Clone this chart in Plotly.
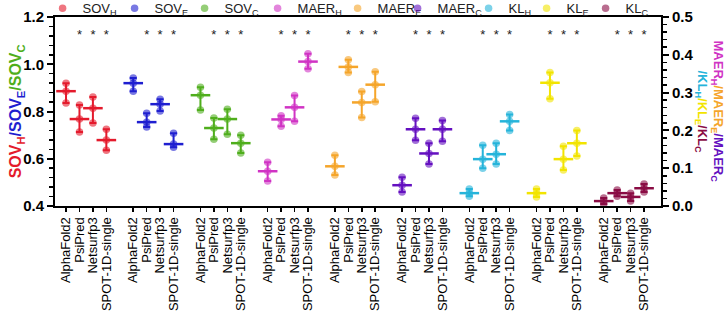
import plotly.graph_objects as go

methods = ["AlphaFold2", "PsiPred", "Netsurfp3", "SPOT-1D-single"]
series = ["SOV_H", "SOV_E", "SOV_C", "MAER_H", "MAER_E", "MAER_C", "KL_H", "KL_E", "KL_C"]
legend_names = ["SOV<sub>H</sub>", "SOV<sub>E</sub>", "SOV<sub>C</sub>",
                "MAER<sub>H</sub>", "MAER<sub>E</sub>", "MAER<sub>C</sub>",
                "KL<sub>H</sub>", "KL<sub>E</sub>", "KL<sub>C</sub>"]
colors = ["#e41a2c", "#1f1fd0", "#4fae1c", "#d033c4", "#f5a52a", "#6410c0",
          "#25b4da", "#f2e400", "#8a0c44"]
# which axis: left (SOV) or right (MAER/KL)
axis_of = ["y", "y", "y", "y2", "y2", "y2", "y2", "y2", "y2"]
# legend entry widths (px) to mimic the reference's spacing
legend_item_px = [27, 25, 28, 35, 15, 26, 13, 14, 20]

mean = {
    "SOV_H": [0.886, 0.768, 0.814, 0.679],
    "SOV_E": [0.920, 0.755, 0.831, 0.662],
    "SOV_C": [0.869, 0.730, 0.768, 0.666],
    "MAER_H": [0.092, 0.229, 0.261, 0.382],
    "MAER_E": [0.105, 0.368, 0.274, 0.321],
    "MAER_C": [0.055, 0.203, 0.139, 0.203],
    "KL_H": [0.034, 0.124, 0.137, 0.224],
    "KL_E": [0.034, 0.326, 0.124, 0.166],
    "KL_C": [0.013, 0.034, 0.024, 0.047],
}
upper = {
    "SOV_H": [0.920, 0.827, 0.861, 0.725],
    "SOV_E": [0.942, 0.793, 0.852, 0.708],
    "SOV_C": [0.903, 0.772, 0.810, 0.700],
    "MAER_H": [0.116, 0.239, 0.292, 0.403],
    "MAER_E": [0.134, 0.387, 0.303, 0.355],
    "MAER_C": [0.076, 0.232, 0.166, 0.226],
    "KL_H": [0.045, 0.161, 0.166, 0.242],
    "KL_E": [0.045, 0.353, 0.158, 0.200],
    "KL_C": [0.021, 0.042, 0.034, 0.058],
}
lower = {
    "SOV_H": [0.836, 0.713, 0.751, 0.636],
    "SOV_E": [0.886, 0.734, 0.802, 0.649],
    "SOV_C": [0.806, 0.683, 0.704, 0.624],
    "MAER_H": [0.066, 0.211, 0.224, 0.363],
    "MAER_E": [0.082, 0.353, 0.234, 0.276],
    "MAER_C": [0.037, 0.174, 0.111, 0.171],
    "KL_H": [0.026, 0.100, 0.111, 0.200],
    "KL_E": [0.024, 0.284, 0.095, 0.132],
    "KL_C": [0.005, 0.026, 0.013, 0.037],
}
# significance stars over these methods in every group
star_methods = ["PsiPred", "Netsurfp3", "SPOT-1D-single"]
star_level = 1.122

GROUP_STEP = 5
FONT = "Liberation Sans, Arial, sans-serif"

fig = go.Figure()
tickvals, ticktext = [], []
star_x = []
for g, s in enumerate(series):
    xs = [g * GROUP_STEP + m for m in range(len(methods))]
    tickvals += xs
    ticktext += methods
    star_x += [g * GROUP_STEP + methods.index(sm) for sm in star_methods]
    mu, hi, lo = mean[s], upper[s], lower[s]
    # replicate dots
    fig.add_trace(go.Scatter(
        x=xs * 3, y=lo + mu + hi, mode="markers", yaxis=axis_of[g],
        name=legend_names[g], legendgroup=s, legendwidth=legend_item_px[g],
        marker=dict(symbol="circle", size=7.5, color=colors[g], opacity=0.6,
                    line=dict(width=0)),
    ))
    # mean +/- error
    fig.add_trace(go.Scatter(
        x=xs, y=mu, mode="markers", yaxis=axis_of[g], showlegend=False,
        legendgroup=s,
        marker=dict(symbol="line-ew", size=14, color=colors[g],
                    line=dict(width=2.5, color=colors[g])),
        error_y=dict(type="data", symmetric=False,
                     array=[h - m for h, m in zip(hi, mu)],
                     arrayminus=[m - l for m, l in zip(mu, lo)],
                     color=colors[g], thickness=2, width=3.5),
    ))

fig.add_trace(go.Scatter(
    x=star_x, y=[star_level] * len(star_x), mode="text", text=["*"] * len(star_x),
    textfont=dict(family=FONT, size=13, color="#222"), showlegend=False, yaxis="y",
    textposition="middle center",
))

fig.update_layout(
    width=727, height=313,
    margin=dict(l=55, r=66, t=17, b=107, autoexpand=False),
    paper_bgcolor="white", plot_bgcolor="white",
    font=dict(family=FONT, color="black"),
    showlegend=True,
    legend=dict(orientation="h", x=-0.0205, xanchor="left", y=1.126, yanchor="top",
                font=dict(family=FONT, size=13, color="#222"),
                itemclick=False, tracegroupgap=0, bgcolor="rgba(0,0,0,0)"),
    xaxis=dict(range=[-0.82, 44.26], tickvals=tickvals, ticktext=ticktext,
               tickangle=-90, ticks="outside", ticklen=4, tickwidth=1.5,
               tickcolor="black", showline=True, linecolor="black", linewidth=2,
               mirror=True, showgrid=False, zeroline=False,
               tickfont=dict(family=FONT, size=13, color="black")),
    yaxis=dict(range=[0.4, 1.2], tickvals=[0.4, 0.6, 0.8, 1.0, 1.2], tickformat=".1f",
               ticks="outside", ticklen=6, tickwidth=2, tickcolor="black",
               showline=True, linecolor="black", linewidth=2, showgrid=False,
               zeroline=False,
               minor=dict(dtick=0.04, ticks="outside", ticklen=4, tickwidth=1.5,
                          tickcolor="black", showgrid=False),
               tickfont=dict(family=FONT, size=15, color="black", weight="bold")),
    yaxis2=dict(range=[0, 0.5], overlaying="y", side="right",
                tickvals=[0, 0.1, 0.2, 0.3, 0.4, 0.5], tickformat=".1f",
                ticks="outside", ticklen=6, tickwidth=2, tickcolor="black",
                showline=True, linecolor="black", linewidth=2, showgrid=False,
                zeroline=False,
                minor=dict(dtick=0.02, ticks="outside", ticklen=4, tickwidth=1.5,
                           tickcolor="black", showgrid=False),
                tickfont=dict(family=FONT, size=15, color="black", weight="bold")),
)

def span(txt, c):
    return f"<span style='color:{c}'>{txt}</span>"

left_title = "<b>" + span("SOV<sub>H</sub>", colors[0]) + span("/", colors[1]) + \
    span("SOV<sub>E</sub>", colors[1]) + span("/", colors[2]) + \
    span("SOV<sub>C</sub>", colors[2]) + "</b>"
right_line1 = "<b>" + span("MAER<sub>H</sub>", colors[3]) + span("/", colors[4]) + \
    span("MAER<sub>E</sub>", colors[4]) + span("/", colors[5]) + \
    span("MAER<sub>C</sub>", colors[5]) + "</b>"
right_line2 = "<b>" + span("/KL<sub>H</sub>", colors[6]) + span("/", colors[7]) + \
    span("KL<sub>E</sub>", colors[7]) + span("/", colors[8]) + \
    span("KL<sub>C</sub>", colors[8]) + "</b>"

fig.add_annotation(text=left_title, xref="paper", yref="paper", x=-0.063, y=0.5,
                   xanchor="center", yanchor="middle", textangle=-90, showarrow=False,
                   font=dict(family=FONT, size=16))
fig.add_annotation(text=right_line1, xref="paper", yref="paper", x=(717 - 55) / 606,
                   y=0.5, xanchor="center", yanchor="middle", textangle=90,
                   showarrow=False, font=dict(family=FONT, size=13))
fig.add_annotation(text=right_line2, xref="paper", yref="paper", x=(701 - 55) / 606,
                   y=0.5, xanchor="center", yanchor="middle", textangle=90,
                   showarrow=False, font=dict(family=FONT, size=13))

fig.write_html("out.html", config={"displayModeBar": False, "staticPlot": True},
               post_script="document.body.style.margin='0';")
